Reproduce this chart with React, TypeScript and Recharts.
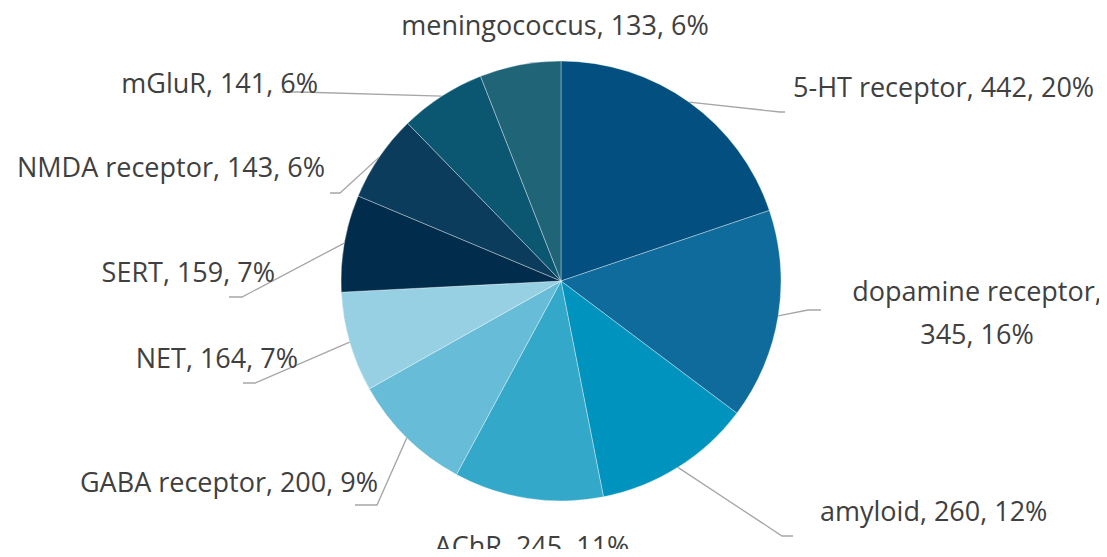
import React from "react";
import { PieChart, Pie, Cell } from "recharts";

const categories = [
  "5-HT receptor",
  "dopamine receptor",
  "amyloid",
  "AChR",
  "GABA receptor",
  "NET",
  "SERT",
  "NMDA receptor",
  "mGluR",
  "meningococcus",
];
const counts = [442, 345, 260, 245, 200, 164, 159, 143, 141, 133];
const colors = [
  "#034f80",
  "#0e6b9c",
  "#0093be",
  "#33a8c9",
  "#67bdd7",
  "#97d0e3",
  "#022c4c",
  "#0b3c5c",
  "#0b5671",
  "#1f6477",
];

const data = categories.map((name, i) => ({ name, value: counts[i] }));

// percentages rounded so that they add up to 100 (largest remainder)
const total = counts.reduce((a, b) => a + b, 0);
const rawPct = counts.map((v) => (v / total) * 100);
const roundedPct = rawPct.map((p) => Math.floor(p));
{
  const left = 100 - roundedPct.reduce((a, b) => a + b, 0);
  const order = rawPct
    .map((p, i) => ({ r: p - Math.floor(p), i }))
    .sort((a, b) => b.r - a.r);
  for (let k = 0; k < left; k++) roundedPct[order[k].i] += 1;
}

// label layout: text position/anchor, leader elbow and end (null = no leader)
const labelLayout: any[] = [
  { tx: 793, ty: 86, anchor: "start", elbow: [780, 112], end: [785, 112] },
  { tx: 977, ty: 290, anchor: "middle", elbow: [808, 310], end: [821, 310], wrap: true },
  { tx: 820, ty: 510, anchor: "start", elbow: [782, 536], end: [793, 536] },
  { tx: 532, ty: 545, anchor: "middle", elbow: null, end: null },
  { tx: 378, ty: 481, anchor: "end", elbow: [377, 505], end: [355, 505] },
  { tx: 298, ty: 357, anchor: "end", elbow: [255, 383], end: [243, 383] },
  { tx: 275, ty: 271, anchor: "end", elbow: [242, 297], end: [229, 297] },
  { tx: 325, ty: 166, anchor: "end", elbow: [340, 193], end: [330, 193] },
  { tx: 318, ty: 82, anchor: "end", elbow: [300, 92], end: [282, 92] },
  { tx: 555, ty: 24, anchor: "middle", elbow: null, end: null },
];

const RADIAN = Math.PI / 180;
const FONT = "'Open Sans', 'Noto Sans', sans-serif";
const FS = 27;

const renderLabel = (props: any) => {
  const { cx, cy, outerRadius, midAngle, index, name, value } = props;
  const L = labelLayout[index];
  const pct = roundedPct[index];
  const ex = cx + outerRadius * Math.cos(-midAngle * RADIAN);
  const ey = cy + outerRadius * Math.sin(-midAngle * RADIAN);
  return (
    <g key={`lbl-${index}`}>
      {L.elbow && (
        <polyline
          points={`${ex},${ey} ${L.elbow[0]},${L.elbow[1]} ${L.end[0]},${L.end[1]}`}
          fill="none"
          stroke="#a6a6a6"
          strokeWidth={1.3}
        />
      )}
      {L.wrap ? (
        <text
          x={L.tx}
          y={L.ty}
          textAnchor="middle"
          dominantBaseline="central"
          fill="#404040"
          fontSize={FS}
          fontFamily={FONT}
        >
          <tspan x={L.tx} y={L.ty}>{`${name},`}</tspan>
          <tspan x={L.tx} y={L.ty + 43}>{`${value}, ${pct}%`}</tspan>
        </text>
      ) : (
        <text
          x={L.tx}
          y={L.ty}
          textAnchor={L.anchor}
          dominantBaseline="central"
          fill="#404040"
          fontSize={FS}
          fontFamily={FONT}
        >
          {`${name}, ${value}, ${pct}%`}
        </text>
      )}
    </g>
  );
};

export default function App() {
  return (
    <div style={{ width: 1107, height: 557, margin: -8, background: "#fff" }}>
      <PieChart width={1107} height={557} margin={{ top: 0, right: 0, bottom: 0, left: 0 }}>
        <Pie
          data={data}
          dataKey="value"
          nameKey="name"
          cx={561}
          cy={281}
          outerRadius={220}
          startAngle={90}
          endAngle={-270}
          stroke="#ffffff"
          strokeOpacity={0.35}
          strokeWidth={1}
          label={renderLabel}
          labelLine={false}
          isAnimationActive={false}
        >
          {data.map((d, i) => (
            <Cell key={d.name} fill={colors[i]} />
          ))}
        </Pie>
      </PieChart>
    </div>
  );
}
